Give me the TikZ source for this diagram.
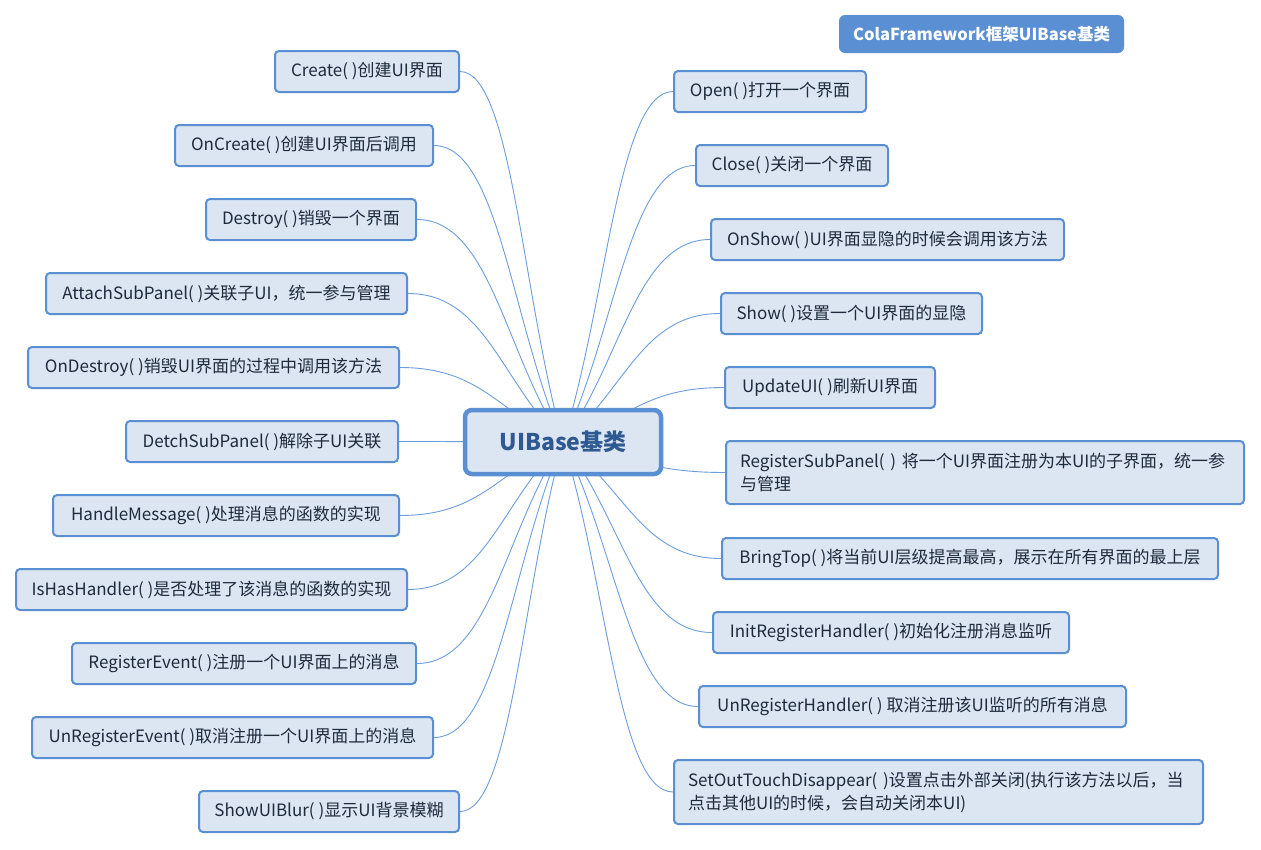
\documentclass[tikz,border=0pt]{standalone}
\usepackage{fontspec}
\setmainfont{Noto Sans CJK SC}
\usetikzlibrary{calc,backgrounds}
\definecolor{boxfill}{HTML}{DCE6F2}
\definecolor{boxline}{HTML}{5B8FD4}
\definecolor{linkline}{HTML}{6D9EDB}
\definecolor{txt}{HTML}{1E2B3C}
\definecolor{roottxt}{HTML}{2F5A91}
\tikzset{
  leaf/.style={draw=boxline, line width=2pt, fill=boxfill, rounded corners=4pt,
    inner sep=0pt, minimum height=41pt, text=txt, font=\fontsize{17pt}{23pt}\selectfont, align=center},
  rootbox/.style={draw=boxline, line width=4.5pt, fill=boxfill, rounded corners=7pt,
    inner sep=0pt, minimum width=196pt, minimum height=64pt, text=roottxt,
    font=\fontsize{23pt}{28pt}\selectfont\bfseries},
  titlebox/.style={fill=boxline, rounded corners=6pt, inner sep=0pt, minimum width=285pt,
    minimum height=38pt, text=white, font=\fontsize{16.5pt}{20pt}\selectfont\bfseries},
  conn/.style={draw=linkline, line width=0.9pt}
}
\newcommand\mmleft[1]{\draw[conn] (root.center) .. controls ($(root.center)!0.4!(#1.east)$) and ($(#1.east)!0.5!(root.center |- #1.east)$) .. (#1.east);}
\newcommand\mmright[1]{\draw[conn] (root.center) .. controls ($(root.center)!0.4!(#1.west)$) and ($(#1.west)!0.5!(root.center |- #1.west)$) .. (#1.west);}
\begin{document}
\begin{tikzpicture}[x=1pt,y=-1pt]
\useasboundingbox (0,0) rectangle (1261,849);
\node[titlebox] (title) at (981.5,34) {ColaFramework框架UIBase基类};
\node[rootbox] (root) at (563,442) {UIBase基类};
% left
\node[leaf, minimum width=184pt] (L1) at (367,71.5) {Create( )创建UI界面};
\node[leaf, minimum width=258pt] (L2) at (304,145.5) {OnCreate( )创建UI界面后调用};
\node[leaf, minimum width=210pt] (L3) at (311,219.5) {Destroy( )销毁一个界面};
\node[leaf, minimum width=361pt] (L4) at (226.5,293.5) {AttachSubPanel( )关联子UI，统一参与管理};
\node[leaf, minimum width=371pt] (L5) at (213.5,367.5) {OnDestroy( )销毁UI界面的过程中调用该方法};
\node[leaf, minimum width=272pt] (L6) at (262,441.5) {DetchSubPanel( )解除子UI关联};
\node[leaf, minimum width=346pt] (L7) at (226,515.5) {HandleMessage( )处理消息的函数的实现};
\node[leaf, minimum width=391pt] (L8) at (211.5,589.5) {IsHasHandler( )是否处理了该消息的函数的实现};
\node[leaf, minimum width=344pt] (L9) at (244,663.5) {RegisterEvent( )注册一个UI界面上的消息};
\node[leaf, minimum width=401pt] (L10) at (232.5,737.5) {UnRegisterEvent( )取消注册一个UI界面上的消息};
\node[leaf, minimum width=260pt] (L11) at (329,811.5) {ShowUIBlur( )显示UI背景模糊};
% right
\node[leaf, minimum width=192pt] (R1) at (770,91.5) {Open( )打开一个界面};
\node[leaf, minimum width=192pt] (R2) at (792,165.5) {Close( )关闭一个界面};
\node[leaf, minimum width=353pt] (R3) at (887.5,239.5) {OnShow( )UI界面显隐的时候会调用该方法};
\node[leaf, minimum width=261pt] (R4) at (851.5,313.5) {Show( )设置一个UI界面的显隐};
\node[leaf, minimum width=210pt] (R5) at (830,387.5) {UpdateUI( )刷新UI界面};
\node[leaf, minimum width=518pt, minimum height=63pt, text width=490pt, align=left] (R6) at (985,472.5)
  {RegisterSubPanel( ) 将一个UI界面注册为本UI的子界面，统一参\\与管理};
\node[leaf, minimum width=496pt] (R7) at (970,558.5) {BringTop( )将当前UI层级提高最高，展示在所有界面的最上层};
\node[leaf, minimum width=356pt] (R8) at (891,632.5) {InitRegisterHandler( )初始化注册消息监听};
\node[leaf, minimum width=427pt] (R9) at (912.5,706.5) {UnRegisterHandler( ) 取消注册该UI监听的所有消息};
\node[leaf, minimum width=529pt, minimum height=64pt, text width=501pt, align=left] (R10) at (938.5,792)
  {SetOutTouchDisappear( )设置点击外部关闭(执行该方法以后，当\\点击其他UI的时候，会自动关闭本UI)};
\begin{scope}[on background layer]
\fill[white] (0,0) rectangle (1261,849);
\foreach \n in {L1,L2,L3,L4,L5,L6,L7,L8,L9,L10,L11} {\mmleft{\n}}
\foreach \n in {R1,R2,R3,R4,R5,R6,R7,R8,R9,R10} {\mmright{\n}}
\end{scope}
\end{tikzpicture}
\end{document}
